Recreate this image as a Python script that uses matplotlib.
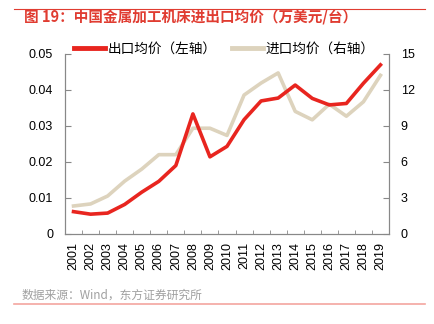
import numpy as np
import matplotlib.pyplot as plt
from matplotlib.lines import Line2D

plt.rcParams['font.family'] = ['Liberation Sans', 'Noto Sans CJK SC', 'DejaVu Sans']

years = [str(y) for y in range(2001, 2020)]
export_price = [0.0062, 0.0055, 0.0058, 0.0082, 0.0116, 0.0146, 0.0190, 0.0333, 0.0214, 0.0243,
                0.0317, 0.0369, 0.0377, 0.0413, 0.0376, 0.0358, 0.0362, 0.0418, 0.0469]
import_price = [2.33, 2.5, 3.16, 4.4, 5.4, 6.6, 6.6, 8.8, 8.8, 8.2,
                11.56, 12.56, 13.4, 10.2, 9.5, 10.8, 9.8, 11.0, 13.2]

red = '#E8251F'
beige = '#DDD3BD'
axis_col = '#888888'

fig = plt.figure(figsize=(4.35, 3.24), dpi=100)
ax = fig.add_axes([65 / 435, 1 - 234 / 324, (389 - 65) / 435, (234 - 53.7) / 324])
ax2 = ax.twinx()

x = np.arange(len(years))
ax.plot(x, export_price, color=red, lw=2.6, zorder=3)
ax2.plot(x, import_price, color=beige, lw=2.6, zorder=2)
ax.set_zorder(ax2.get_zorder() + 1)
ax.patch.set_visible(False)

ax.set_xlim(-0.5, len(years) - 0.5)
ax.set_ylim(0, 0.05)
ax2.set_ylim(0, 15)
ax.set_yticks([0, 0.01, 0.02, 0.03, 0.04, 0.05])
ax.set_yticklabels(['0', '0.01', '0.02', '0.03', '0.04', '0.05'])
ax2.set_yticks([0, 3, 6, 9, 12, 15])
ax.set_xticks(x)
ax.set_xticklabels(years, rotation=90)
ax.set_xticks(np.arange(-0.5, len(years)), minor=True)
ax.tick_params(axis='x', which='major', length=0, labelsize=9, pad=6)
ax.tick_params(axis='x', which='minor', direction='in', length=3, color=axis_col)
ax.tick_params(axis='y', direction='in', length=4, color=axis_col, labelsize=9, pad=8.6)
ax2.tick_params(axis='y', direction='in', length=4, color=axis_col, labelsize=9, pad=8.4)

for a in (ax, ax2):
    a.spines['top'].set_visible(False)
    for s in ('left', 'right', 'bottom'):
        a.spines[s].set_color(axis_col)
        a.spines[s].set_linewidth(0.8)

handles = [Line2D([], [], color=red, lw=3.5), Line2D([], [], color=beige, lw=3.5)]
ax.legend(handles, ['出口均价（左轴）', '进口均价（右轴）'], loc='center',
          bbox_to_anchor=((224.5 - 65) / 324, (234 - 49) / 180.3), ncol=2, frameon=False,
          fontsize=9.8, handlelength=2.3, handletextpad=0.2, columnspacing=1.1,
          borderpad=0, borderaxespad=0)

# title and source
fig.add_artist(Line2D([14 / 435, 425 / 435], [1 - 9 / 324, 1 - 9 / 324], color='#E03C31', lw=0.8))
fig.text(24 / 435, 1 - 17 / 324, '图 19：中国金属加工机床进出口均价（万美元/台）', color='#E03C31',
         fontsize=10.5, fontweight='bold', va='center', family=['Noto Sans CJK SC', 'DejaVu Sans'])
fig.text(22 / 435, 1 - 295 / 324, '数据来源：Wind，东方证券研究所', color='#A0A0A0', fontsize=8.5,
         va='center', family=['Noto Sans CJK SC', 'DejaVu Sans'])
fig.add_artist(Line2D([14 / 435, 425 / 435], [1 - 304 / 324, 1 - 304 / 324], color='#F4A6A0', lw=1.2))

fig.savefig('out.png', dpi=100)
